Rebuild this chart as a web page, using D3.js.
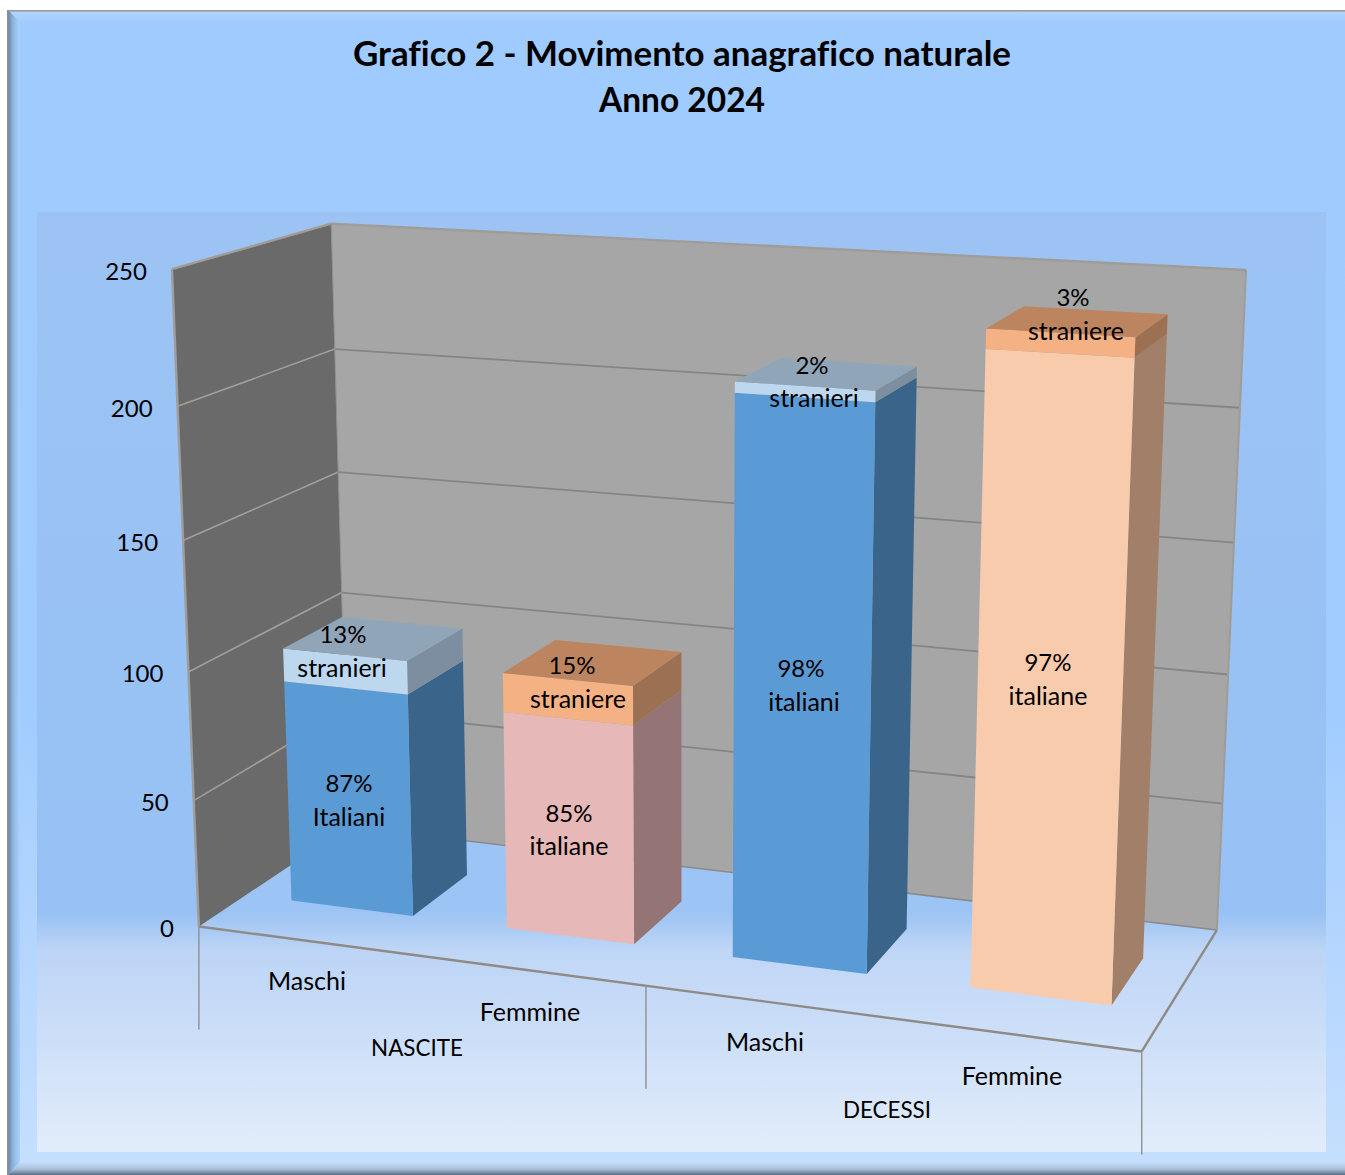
<!DOCTYPE html>
<html><head><meta charset="utf-8">
<script src="https://cdn.jsdelivr.net/npm/d3@7"></script>
<style>html,body{margin:0;padding:0;background:#fff;overflow:hidden}svg{display:block}text{font-family:Lato,"Open Sans",sans-serif;fill:#000;font-variant-ligatures:none}</style>
</head><body><div id="c"></div>
<script>
// ---- data ----
const titleLines = ["Grafico 2 - Movimento anagrafico naturale", "Anno 2024"];
const categories = ["Maschi", "Femmine", "Maschi", "Femmine"];
const groups = ["NASCITE", "DECESSI"];
const italiani = [88, 85, 211, 232];
const stranieri = [13, 15, 4, 7];
const labelsIt = [["87%","Italiani"],["85%","italiane"],["98%","italiani"],["97%","italiane"]];
const labelsSt = [["13%","stranieri"],["15%","straniere"],["2%","stranieri"],["3%","straniere"]];
const yTicks = [0, 50, 100, 150, 200, 250];

// ---- layout ----
const W = 1345, H = 1175;
const palette = [
  {it:["#5b9bd5","#3a6489","#5b9bd5"], st:["#bdd7ee","#7c8e9f","#90a5b8"]},
  {it:["#e6b8b7","#947474","#e6b8b7"], st:["#f4b183","#9c7052","#bc845f"]},
  {it:["#5b9bd5","#3a6489","#5b9bd5"], st:["#bdd7ee","#7c8e9f","#90a5b8"]},
  {it:["#f8cbad","#a17f69","#f8cbad"], st:["#f4b183","#9c7052","#bc845f"]}
];
const itAnchors = [[[349,784],[349,817]],[[569,814],[569,846]],[[801,669],[804,702]],[[1048,663],[1048,696]]];
const stAnchors = [[[343,635],[342,668]],[[572,666],[578,699]],[[812,366],[814,398]],[[1073,298],[1076,331]]];
const catAnchors = [[307,981],[530,1012],[765,1042],[1012,1076]];
const groupAnchors = [[417,1048],[887,1110]];
const zBar = [0.30, 0.695];

// Camera calibration: box corners of the plot seen in the picture -> projective matrix
const calib = [
 [0,0,250,171,269],[0,0,250,171,269],[0,0,250,171,269],[0,0,200,177,407],[0,0,150,183,540],[0,0,100,188,671],[0,0,50,195,800],[0,0,0,200,927],[0,0,0,200,927],[0,0,0,200,927],
 [0,1,250,332,224],[0,1,250,332,224],[0,1,250,332,224],[0,1,200,335,349],[0,1,150,339,472],[0,1,100,342,592],[0,1,0,344,827],
 [1,1,250,1246,270],[1,1,200,1240,408],[1,1,150,1234,543],[1,1,100,1228,674],[1,1,50,1222,803],[1,1,0,1218,930],
 [1,0,0,1141,1052]
];
function solveCamera(pts){
  const n=11, A=Array.from({length:n},()=>new Array(n+1).fill(0));
  const add=(r,b)=>{for(let i=0;i<n;i++){for(let j=0;j<n;j++)A[i][j]+=r[i]*r[j];A[i][n]+=r[i]*b;}};
  pts.forEach(([x,z,v,u,w])=>{
    const Y=v/250,U=u/1000,V=w/1000;
    add([x,Y,z,1,0,0,0,0,-U*x,-U*Y,-U*z],U);
    add([0,0,0,0,x,Y,z,1,-V*x,-V*Y,-V*z],V);
  });
  for(let i=0;i<n;i++){
    let p=i;for(let r=i+1;r<n;r++)if(Math.abs(A[r][i])>Math.abs(A[p][i]))p=r;
    [A[i],A[p]]=[A[p],A[i]];
    for(let r=0;r<n;r++){if(r===i)continue;const f=A[r][i]/A[i][i];for(let c=i;c<=n;c++)A[r][c]-=f*A[i][c];}
  }
  return A.map((row,i)=>row[n]/row[i]);
}
const M = solveCamera(calib);
const yScale = d3.scaleLinear().domain([0,250]).range([0,1]);
const xScale = d3.scaleBand().domain(d3.range(4)).range([0,1]).paddingInner(0.43).paddingOuter(0.215);
function P(x,z,v){
  const Y=yScale(v), d=M[8]*x+M[9]*Y+M[10]*z+1;
  return [1000*(M[0]*x+M[1]*Y+M[2]*z+M[3])/d, 1000*(M[4]*x+M[5]*Y+M[6]*z+M[7])/d];
}
const poly = pts => "M"+pts.map(p=>p.map(n=>n.toFixed(1)).join(",")).join("L")+"Z";

const svg = d3.select("#c").append("svg").attr("width",W).attr("height",H);
const defs = svg.append("defs");
function grad(id,x1,y1,x2,y2,stops){
  const g=defs.append("linearGradient").attr("id",id).attr("gradientUnits","userSpaceOnUse")
    .attr("x1",x1).attr("y1",y1).attr("x2",x2).attr("y2",y2);
  stops.forEach(([o,c])=>g.append("stop").attr("offset",o).attr("stop-color",c));
}
grad("gFrame",0,10,0,1175,[[0,"#a0cbff"],[0.6,"#a1ccff"],[1,"#c6dffe"]]);
grad("gPanel",0,212,0,1152,[[0,"#9cc3f4"],[0.745,"#97c1f4"],[0.785,"#bcd4f6"],[1,"#e2edfb"]]);
grad("gLeft",8,0,19,0,[[0,"#6485a6"],[0.45,"#8fb4dd"],[1,"#a6cfff"]]);
grad("gTop",0,10,0,24,[[0,"#b2d7ff"],[1,"#a0cbff"]]);
grad("gBottom",0,1162,0,1175,[[0,"#c5defe"],[0.55,"#a9bfd8"],[1,"#5b7085"]]);

// frame
svg.append("rect").attr("x",8).attr("y",10).attr("width",W).attr("height",H).attr("fill","url(#gFrame)");
svg.append("path").attr("d","M8,10L1345,10L1345,24L22,24Z").attr("fill","url(#gTop)");
svg.append("path").attr("d","M8,10L20,22L20,1162L8,1175Z").attr("fill","url(#gLeft)");
svg.append("path").attr("d","M20,1162L1345,1162L1345,1175L8,1175Z").attr("fill","url(#gBottom)");
svg.append("rect").attr("x",7).attr("y",10).attr("width",W).attr("height",1.6).attr("fill","#9a9a9a");
svg.append("rect").attr("x",7).attr("y",10).attr("width",1.6).attr("height",H).attr("fill","#8f8f8f");
svg.append("rect").attr("x",37).attr("y",212).attr("width",1289).attr("height",940).attr("fill","url(#gPanel)");

// title
svg.append("g").selectAll("text").data(titleLines).join("text")
  .attr("x",682).attr("y",(d,i)=>66+46*i).attr("text-anchor","middle")
  .attr("font-size",34).attr("font-weight",700)
  .attr("textLength",(d,i)=>[658,166][i]).attr("lengthAdjust","spacingAndGlyphs").text(d=>d);

// walls + floor
const edge="#a09c98", grid="#858585";
svg.append("path").attr("d",poly([P(0,0,0),P(0,1,0),P(0,1,250),P(0,0,250)])).attr("fill","#6a6a6a");
svg.append("path").attr("d",poly([P(0,1,0),P(1,1,0),P(1,1,250),P(0,1,250)])).attr("fill","#a6a6a6");
svg.append("path").attr("d",poly([P(0,0,0),P(1,0,0),P(1,1,0),P(0,1,0)])).attr("fill","#ffffff").attr("fill-opacity",0.05);
const line=(a,b,c,w)=>svg.append("line").attr("x1",a[0]).attr("y1",a[1]).attr("x2",b[0]).attr("y2",b[1]).attr("stroke",c).attr("stroke-width",w);
yTicks.filter(t=>t>0&&t<250).forEach(t=>{
  line(P(0,0,t),P(0,1,t),"#a29f9a",1.6);
  line(P(0,1,t),P(1,1,t),grid,1.8);
});
line(P(0,1,0),P(1,1,0),"#8a8a8a",1.6);
line(P(0,0,0),P(0,0,250),edge,2.4);
line(P(0,0,250),P(0,1,250),edge,2.4);
line(P(0,1,250),P(1,1,250),edge,2.4);
line(P(1,1,250),P(1,1,0),edge,2);
line(P(0,1,250),P(0,1,0),"#8f8f8f",1);
line(P(0,0,0),P(1,0,0),"#8f8a86",2.4);
line(P(1,0,0),P(1,1,0),"#8f8a86",2.4);

// category axis ticks
[0,0.5,1].forEach(t=>{const p=P(t,0,0);line(p,[p[0],p[1]+103],"#909090",1.4);});

// y tick labels
svg.append("g").selectAll("text").data(yTicks).join("text")
  .attr("x",d=>P(0,0,d)[0]-25).attr("y",d=>P(0,0,d)[1]+2).attr("dy","0.35em")
  .attr("text-anchor","end").attr("font-size",24).text(d=>d);

// bars
function box(i,v0,v1,cols){
  const x0=xScale(i), x1=x0+xScale.bandwidth(), [z0,z1]=zBar;
  const g=svg.append("g");
  g.append("path").attr("d",poly([P(x1,z0,v0),P(x1,z1,v0),P(x1,z1,v1),P(x1,z0,v1)])).attr("fill",cols[1]);
  g.append("path").attr("d",poly([P(x0,z0,v0),P(x1,z0,v0),P(x1,z0,v1),P(x0,z0,v1)])).attr("fill",cols[0]);
  return g;
}
italiani.forEach((v,i)=>{
  const total=v+stranieri[i], x0=xScale(i), x1=x0+xScale.bandwidth(), [z0,z1]=zBar;
  box(i,0,v,palette[i].it);
  const g=box(i,v,total,palette[i].st);
  g.append("path").attr("d",poly([P(x0,z0,total),P(x1,z0,total),P(x1,z1,total),P(x0,z1,total)])).attr("fill",palette[i].st[2]);
});

// data labels
const tl=(arr,size)=>svg.append("g").selectAll("text").data(arr).join("text")
  .attr("x",d=>d.p[0]).attr("y",d=>d.p[1]).attr("dy","0.35em").attr("text-anchor","middle")
  .attr("font-size",d=>/%/.test(d.t)?24:size).text(d=>d.t);
tl(labelsIt.flatMap((l,i)=>l.map((t,k)=>({t,p:itAnchors[i][k]}))),25);
tl(labelsSt.flatMap((l,i)=>l.map((t,k)=>({t,p:stAnchors[i][k]}))),25);
tl(categories.map((t,i)=>({t,p:catAnchors[i]})),25);
tl(groups.map((t,i)=>({t,p:groupAnchors[i]})),22.4);
</script></body></html>
